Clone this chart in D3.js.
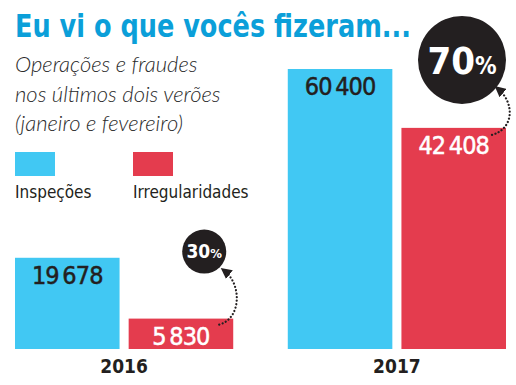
<!DOCTYPE html>
<html lang="pt">
<head>
<meta charset="UTF-8">
<title>Eu vi o que vocês fizeram...</title>
<script src="https://cdn.jsdelivr.net/npm/d3@7"></script>
<style>
  body { margin: 0; background: #fff; }
  text { font-family: "DejaVu Sans Condensed", sans-serif; }
  .title { font-weight: bold; fill: #0b9fd9; font-size: 32px; }
  .sub { font-family: Lato, "Open Sans", sans-serif; font-style: italic; font-weight: 300; fill: #2b2b2b; font-size: 22px; }
  .legend { font-size: 17px; fill: #231f20; }
  .value { font-size: 25px; letter-spacing: -0.9px; stroke-width: 0.5px; }
  .year { font-size: 19px; font-weight: bold; fill: #231f20; }
  .pct { font-weight: bold; fill: #fff; }
</style>
</head>
<body>
<svg width="516" height="385"></svg>
<script>
// data
const years = ["2016", "2017"];
const seriesNames = ["Inspeções", "Irregularidades"];
const inspecoes = [19678, 60400];
const irregularidades = [5830, 42408];
const growth = [30, 70];
const subtitle = ["Operações e fraudes", "nos últimos dois verões", "(janeiro e fevereiro)"];

const colors = { "Inspeções": "#41c8f3", "Irregularidades": "#e43c4e" };
const labelColors = { "Inspeções": "#231f20", "Irregularidades": "#ffffff" };

const svg = d3.select("svg");
const baseY = 349;

// each series is drawn to its own vertical scale, as in the original graphic
const y = {
  "Inspeções": d3.scaleLinear().domain([0, 60400]).range([baseY, 69]),
  "Irregularidades": d3.scaleLinear().domain([0, 53700]).range([baseY, 69])
};
const x0 = d3.scaleBand().domain(years).range([15, 506]).paddingInner(0.2);
const x1 = d3.scaleBand().domain(seriesNames).range([0, x0.bandwidth()]).paddingInner(0.08);

const fmt = d3.formatLocale({ decimal: ",", thousands: "\u2009", grouping: [3], currency: ["", ""] }).format(",d");

// title + subtitle
svg.append("text").attr("class", "title")
  .attr("x", 15).attr("y", 37)
  .attr("textLength", 396).attr("lengthAdjust", "spacingAndGlyphs")
  .text("Eu vi o que vocês fizeram...");

svg.selectAll("text.sub").data(subtitle).join("text")
  .attr("class", "sub")
  .attr("x", 15).attr("y", (d, i) => 72 + i * 29.5)
  .text(d => d);

// legend
const leg = svg.append("g").selectAll("g").data(seriesNames).join("g")
  .attr("transform", (d, i) => `translate(${15 + i * 118},152)`);
leg.append("rect").attr("width", 40).attr("height", 24).attr("fill", d => colors[d]);
leg.append("text").attr("class", "legend").attr("y", 46).text(d => d);

// bars
const rows = years.map((yr, i) => ({
  year: yr,
  values: [
    { key: "Inspeções", value: inspecoes[i] },
    { key: "Irregularidades", value: irregularidades[i] }
  ],
  growth: growth[i]
}));

const group = svg.append("g").selectAll("g").data(rows).join("g")
  .attr("transform", d => `translate(${x0(d.year)},0)`);

const bar = group.selectAll("g").data(d => d.values).join("g");
bar.append("rect")
  .attr("x", d => x1(d.key))
  .attr("y", d => y[d.key](d.value))
  .attr("width", x1.bandwidth())
  .attr("height", d => baseY - y[d.key](d.value))
  .attr("fill", d => colors[d.key]);
bar.append("text").attr("class", "value")
  .attr("x", d => x1(d.key) + x1.bandwidth() / 2)
  .attr("y", d => y[d.key](d.value) + 26)
  .attr("text-anchor", "middle")
  .attr("fill", d => labelColors[d.key])
  .attr("stroke", d => labelColors[d.key])
  .text(d => fmt(d.value));

group.append("text").attr("class", "year")
  .attr("x", x0.bandwidth() / 2).attr("y", 373)
  .attr("text-anchor", "middle")
  .text(d => d.year);

// growth badges with dotted arrows
svg.append("defs").append("marker")
  .attr("id", "head").attr("viewBox", "0 -5 10 10")
  .attr("refX", 6).attr("refY", 0)
  .attr("markerWidth", 5).attr("markerHeight", 5)
  .attr("markerUnits", "strokeWidth")
  .attr("orient", "auto")
  .append("path").attr("d", "M0,-5L10,0L0,5Z").attr("fill", "#231f20");

const badge = [
  { dx: -29, dy: -67, r: 22, big: 19, small: 13, base: 6, arrow: [[-14, 6], [-9, -48]] },
  { dx: -44, dy: -68, r: 44, big: 38, small: 24, base: 14, arrow: [[-14, 7], [-8, -39]] }
];

group.each(function(d, i) {
  const g = d3.select(this);
  const red = d.values[1];
  const right = x1(red.key) + x1.bandwidth();
  const top = y[red.key](red.value);
  const b = badge[i];
  const s = [right + b.arrow[0][0], top + b.arrow[0][1]];
  const e = [right + b.arrow[1][0], top + b.arrow[1][1]];
  g.append("path")
    .attr("d", `M${s[0]},${s[1]} C${right + 8},${s[1] - 6} ${right + 9},${e[1] + 14} ${e[0]},${e[1]}`)
    .attr("fill", "none").attr("stroke", "#231f20")
    .attr("stroke-width", 2.2).attr("stroke-linecap", "round")
    .attr("stroke-dasharray", "0.1,3.4")
    .attr("marker-end", "url(#head)");
  const cx = right + b.dx, cy = top + b.dy;
  g.append("circle").attr("cx", cx).attr("cy", cy).attr("r", b.r).attr("fill", "#231f20");
  const t = g.append("text").attr("class", "pct")
    .attr("x", cx).attr("y", cy + b.base).attr("text-anchor", "middle");
  t.append("tspan").attr("font-size", b.big).text(d.growth);
  t.append("tspan").attr("font-size", b.small).text("%");
});
</script>
</body>
</html>
